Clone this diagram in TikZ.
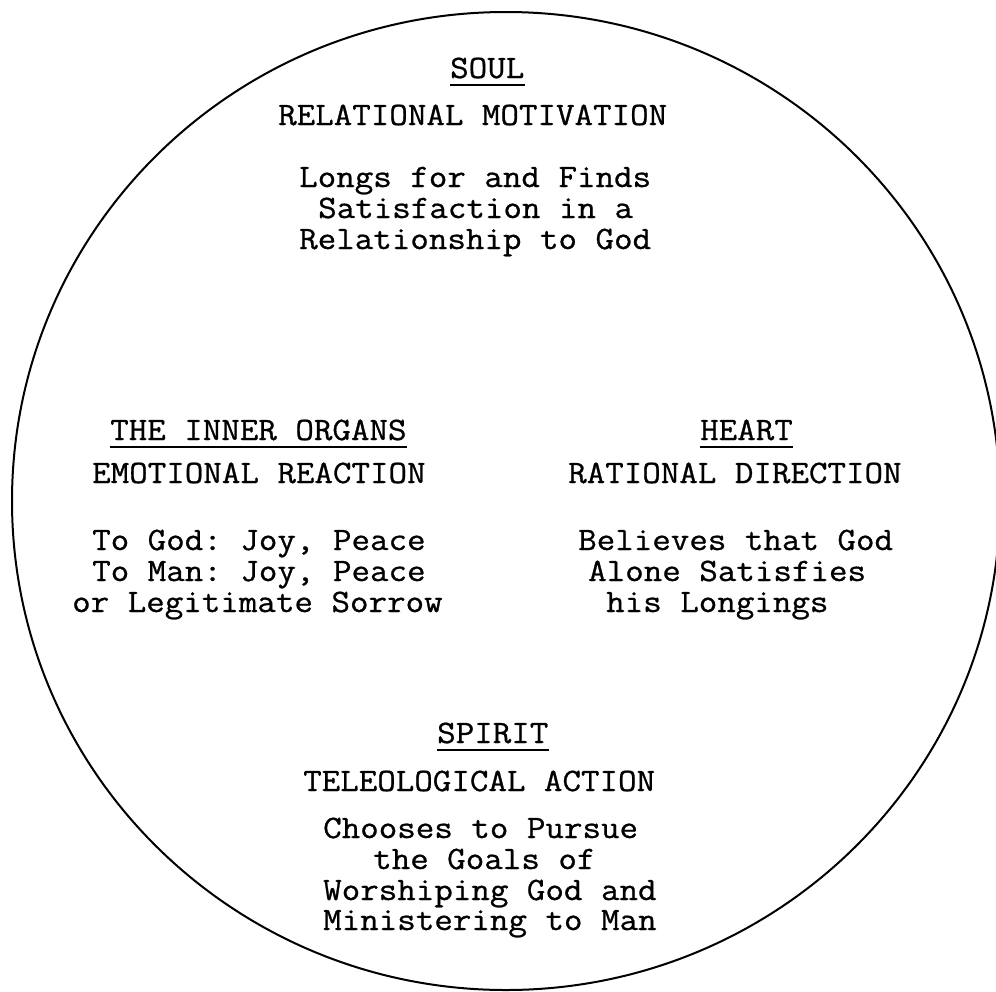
\documentclass[tikz,border=0pt]{standalone}
\usepackage{fontspec}
\setmonofont{Latin Modern Mono}[FakeStretch=1.1, FakeBold=0.8]
\tikzset{
    every node/.style={font=\ttfamily\fontsize{32.7}{31}\selectfont, inner sep=0pt},
    typeline/.style={anchor=base west},   % every typed line starts at its left end
    rule/.style={line width=1.6pt},       % underline of the titles
}

\begin{document}
\begin{tikzpicture}[x=1pt, y=-1pt]
\useasboundingbox (0,0) rectangle (996,991);

\draw[line width=2pt] (506,501) ellipse [x radius=494, y radius=489];

% soul
\node[typeline] (soul) at (450,78) {SOUL};
\node[typeline] (soulsub) at (278,125) {RELATIONAL MOTIVATION};
\node[typeline] (soul1) at (299,187) {Longs for and Finds};
\node[typeline] (soul2) at (318,218) {Satisfaction in a};
\node[typeline] (soul3) at (299,249) {Relationship to God};

% inner organs
\node[typeline] (organs) at (110,440) {THE INNER ORGANS};
\node[typeline] (organssub) at (92,483) {EMOTIONAL REACTION};
\node[typeline] (organs1) at (92,550) {To God: Joy, Peace};
\node[typeline] (organs2) at (92,581) {To Man: Joy, Peace};
\node[typeline] (organs3) at (72,612) {or Legitimate Sorrow};

% heart
\node[typeline] (heart) at (700,440) {HEART};
\node[typeline] (heartsub) at (568,483) {RATIONAL DIRECTION};
\node[typeline] (heart1) at (578,550) {Believes that God};
\node[typeline] (heart2) at (588,581) {Alone Satisfies};
\node[typeline] (heart3) at (606,612) {his Longings};

% spirit
\node[typeline] (spirit) at (437,743) {SPIRIT};
\node[typeline] (spiritsub) at (303,791) {TELEOLOGICAL ACTION};
\node[typeline] (spirit1) at (323,838) {Chooses to Pursue};
\node[typeline] (spirit2) at (373,869) {the Goals of};
\node[typeline] (spirit3) at (323,900) {Worshiping God and};
\node[typeline] (spirit4) at (323,930) {Ministering to Man};

\foreach \t in {soul, organs, heart, spirit}
    \draw[rule] ([yshift=-7pt]\t.base west) -- ([yshift=-7pt]\t.base east);

\end{tikzpicture}
\end{document}
